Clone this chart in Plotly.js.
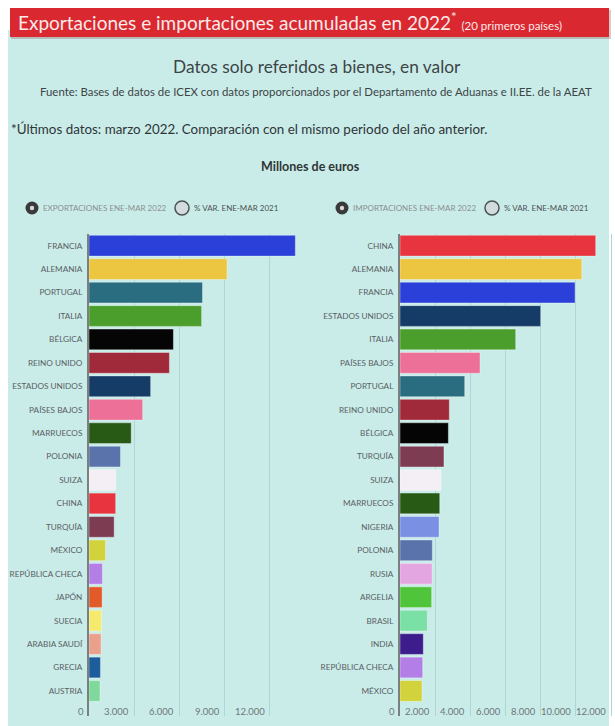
<!DOCTYPE html>
<html>
<head>
<meta charset="utf-8">
<script src="https://cdn.plot.ly/plotly-3.0.1.min.js"></script>
<style>html,body{margin:0;padding:0;background:#fff;}#chart{width:615px;height:726px;}</style>
</head>
<body>
<div id="chart"></div>
<script>
// ---- Data (millones de euros, ene-mar 2022) ----
const expCountries = ['FRANCIA','ALEMANIA','PORTUGAL','ITALIA','BÉLGICA','REINO UNIDO','ESTADOS UNIDOS','PAÍSES BAJOS','MARRUECOS','POLONIA','SUIZA','CHINA','TURQUÍA','MÉXICO','REPÚBLICA CHECA','JAPÓN','SUECIA','ARABIA SAUDÍ','GRECIA','AUSTRIA'];
const expValues = [13690, 9160, 7530, 7470, 5600, 5335, 4090, 3560, 2800, 2090, 1775, 1770, 1670, 1090, 890, 870, 830, 800, 760, 730];

const impCountries = ['CHINA','ALEMANIA','FRANCIA','ESTADOS UNIDOS','ITALIA','PAÍSES BAJOS','PORTUGAL','REINO UNIDO','BÉLGICA','TURQUÍA','SUIZA','MARRUECOS','NIGERIA','POLONIA','RUSIA','ARGELIA','BRASIL','INDIA','REPÚBLICA CHECA','MÉXICO'];
const impValues = [11130, 10335, 9955, 8000, 6580, 4550, 3680, 2805, 2750, 2500, 2330, 2260, 2220, 1840, 1830, 1800, 1555, 1325, 1290, 1250];

const expTicks = [0, 3000, 6000, 9000, 12000];
const impTicks = [0, 2000, 4000, 6000, 8000, 10000, 12000];

const expLegend = ['EXPORTACIONES ENE-MAR 2022', '% VAR. ENE-MAR 2021'];
const impLegend = ['IMPORTACIONES ENE-MAR 2022', '% VAR. ENE-MAR 2021'];

// ---- Styles ----
const countryColors = {
  'FRANCIA':'#2a40d8','ALEMANIA':'#ecc640','PORTUGAL':'#2a6d80','ITALIA':'#4b9e2c','BÉLGICA':'#050505',
  'REINO UNIDO':'#a02a3a','ESTADOS UNIDOS':'#143c66','PAÍSES BAJOS':'#ec7098','MARRUECOS':'#285a16',
  'POLONIA':'#5b73ab','SUIZA':'#f3eff4','CHINA':'#e8343e','TURQUÍA':'#7e3c52','MÉXICO':'#d2d23c',
  'REPÚBLICA CHECA':'#b37ee6','JAPÓN':'#e35a2a','SUECIA':'#f5ea6e','ARABIA SAUDÍ':'#eaa08a',
  'GRECIA':'#1c5d9b','AUSTRIA':'#7fd99c','NIGERIA':'#7a90e2','RUSIA':'#e4a6e0','ARGELIA':'#50c53c',
  'BRASIL':'#7be0a6','INDIA':'#3d1d8c'
};
const FONT = "Lato, 'Noto Sans', sans-serif";
const W = 615, H = 726;
const px = x => x / W;
const py = y => 1 - y / H;

const barTrace = (cats, vals, xa, ya) => ({
  type: 'bar', orientation: 'h', x: vals, y: cats,
  xaxis: xa, yaxis: ya,
  marker: { color: cats.map(c => countryColors[c]), line: { color: 'rgba(255,255,255,0.35)', width: 1 } },
  hoverinfo: 'x+y', showlegend: false
});

const data = [
  barTrace(expCountries, expValues, 'x', 'y'),
  barTrace(impCountries, impValues, 'x2', 'y2')
];

const yCommon = {
  type: 'category', range: [20.07, -0.5], domain: [py(716), py(234)],
  showline: true, linecolor: '#7a7f80', linewidth: 2, showgrid: false, zeroline: false,
  ticks: '', ticklabelstandoff: 3, tickfont: { family: FONT, size: 8.2, color: '#5a6062' },
  fixedrange: true
};
const xCommon = {
  showgrid: true, gridcolor: '#aed6d3', gridwidth: 1, zeroline: false, showline: false,
  showticklabels: false, ticks: '', fixedrange: true
};

const annotations = [];
const shapes = [];

// background panel & banner
shapes.push({ type: 'rect', xref: 'paper', yref: 'paper', x0: px(8), x1: px(609), y0: py(726), y1: py(30), fillcolor: '#c9ece9', line: { width: 0 }, layer: 'below' });
shapes.push({ type: 'rect', xref: 'paper', yref: 'paper', x0: px(11), x1: px(611), y0: py(39), y1: py(10), fillcolor: 'rgba(120,40,40,0.25)', line: { width: 0 }, layer: 'below' });
shapes.push({ type: 'rect', xref: 'paper', yref: 'paper', x0: px(10), x1: px(609), y0: py(37), y1: py(8), fillcolor: '#d9282f', line: { width: 0 }, layer: 'below' });

annotations.push({ xref: 'paper', yref: 'paper', x: px(16), y: py(22), xanchor: 'left', yanchor: 'middle', showarrow: false,
  text: 'Exportaciones e importaciones acumuladas en 2022<sup>*</sup> <span style="font-size:11.5px">(20 primeros países)</span>',
  font: { family: FONT, size: 19, color: '#fbeaea' } });
annotations.push({ xref: 'paper', yref: 'paper', x: px(317), y: py(67), xanchor: 'center', yanchor: 'middle', showarrow: false,
  text: 'Datos solo referidos a bienes, en valor', font: { family: FONT, size: 17.3, color: '#3d4446' } });
annotations.push({ xref: 'paper', yref: 'paper', x: px(316), y: py(92), xanchor: 'center', yanchor: 'middle', showarrow: false,
  text: 'Fuente: Bases de datos de ICEX con datos proporcionados por el Departamento de Aduanas e II.EE. de la AEAT', font: { family: FONT, size: 11.4, color: '#3d4446' } });
annotations.push({ xref: 'paper', yref: 'paper', x: px(9), y: py(129), xanchor: 'left', yanchor: 'middle', showarrow: false,
  text: '*Últimos datos: marzo 2022. Comparación con el mismo periodo del año anterior.', font: { family: FONT, size: 13.4, color: '#2f3536' } });
annotations.push({ xref: 'paper', yref: 'paper', x: px(310), y: py(167), xanchor: 'center', yanchor: 'middle', showarrow: false,
  text: '<b>Millones de euros</b>', font: { family: FONT, size: 12.5, color: '#2f3536' } });

// legends (radio-style)
function legend(cx1, labels, cx2) {
  shapes.push({ type: 'circle', xref: 'paper', yref: 'paper', x0: px(cx1 - 6.5), x1: px(cx1 + 6.5), y0: py(208 + 6.5), y1: py(208 - 6.5), fillcolor: '#3a3a3a', line: { width: 0 } });
  shapes.push({ type: 'circle', xref: 'paper', yref: 'paper', x0: px(cx1 - 2.2), x1: px(cx1 + 2.2), y0: py(208 + 2.2), y1: py(208 - 2.2), fillcolor: '#d8dada', line: { width: 0 } });
  annotations.push({ xref: 'paper', yref: 'paper', x: px(cx1 + 9), y: py(208), xanchor: 'left', yanchor: 'middle', showarrow: false,
    text: labels[0], font: { family: FONT, size: 8, color: '#8a9091' } });
  shapes.push({ type: 'circle', xref: 'paper', yref: 'paper', x0: px(cx2 - 7), x1: px(cx2 + 7), y0: py(208 + 7), y1: py(208 - 7), fillcolor: '#d2dcdc', line: { width: 1.5, color: '#4d5354' } });
  annotations.push({ xref: 'paper', yref: 'paper', x: px(cx2 + 10), y: py(208), xanchor: 'left', yanchor: 'middle', showarrow: false,
    text: labels[1], font: { family: FONT, size: 8, color: '#4d5354' } });
}
legend(32, expLegend, 182);
legend(342, impLegend, 492);

// x tick labels, right-aligned to each gridline
expTicks.forEach(t => annotations.push({ xref: 'x', yref: 'paper', x: t, y: py(711), xanchor: 'right', yanchor: 'middle', xshift: -3, showarrow: false,
  text: t.toLocaleString('de-DE'), font: { family: FONT, size: 9.5, color: '#6f7677' } }));
impTicks.forEach(t => annotations.push({ xref: 'x2', yref: 'paper', x: t, y: py(711), xanchor: 'right', yanchor: 'middle', xshift: -3, showarrow: false,
  text: t.toLocaleString('de-DE'), font: { family: FONT, size: 9.5, color: '#6f7677' } }));

const layout = {
  width: W, height: H,
  margin: { l: 0, r: 0, t: 0, b: 0, pad: 0 },
  paper_bgcolor: '#ffffff', plot_bgcolor: 'rgba(0,0,0,0)',
  font: { family: FONT },
  bargap: 0.115,
  xaxis: Object.assign({}, xCommon, { domain: [px(89), px(300)], range: [0, 14000], tickvals: expTicks, anchor: 'y' }),
  yaxis: Object.assign({}, yCommon, { anchor: 'x', categoryarray: expCountries, categoryorder: 'array' }),
  xaxis2: Object.assign({}, xCommon, { domain: [px(400), px(614)], range: [0, 12170], tickvals: impTicks, anchor: 'y2' }),
  yaxis2: Object.assign({}, yCommon, { anchor: 'x2', categoryarray: impCountries, categoryorder: 'array' }),
  shapes: shapes,
  annotations: annotations,
  showlegend: false
};

Plotly.newPlot('chart', data, layout, { displayModeBar: false, staticPlot: true });
</script>
</body>
</html>
